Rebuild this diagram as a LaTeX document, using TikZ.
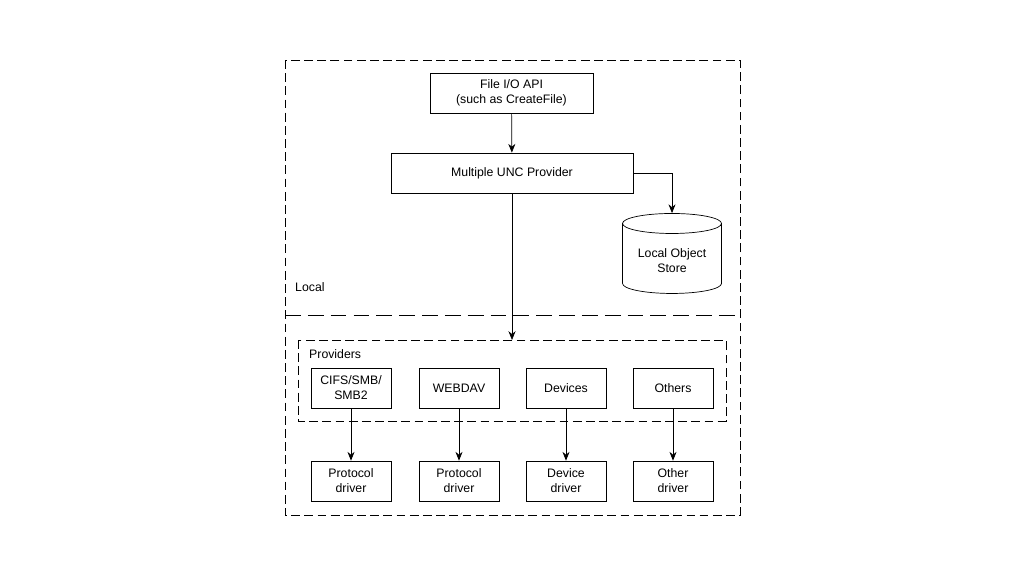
\documentclass[tikz,border=0pt]{standalone}
\usepackage{fontspec}
\setmainfont{Liberation Sans}
\usetikzlibrary{shapes.geometric,arrows.meta}
\begin{document}
\begin{tikzpicture}[x=0.02cm,y=-0.02cm,
  box/.style={draw,thin,fill=white,font=\fontsize{7}{8.5}\selectfont,align=center,inner sep=0pt},
  arr/.style={-{Stealth[length=5pt,width=4pt]},thin},
  dbox/.style={draw,thin,dash pattern=on 5pt off 2.5pt}]
\useasboundingbox (0,0) rectangle (1024,576);
\draw[dbox] (285,60) rectangle (740,515);
\draw[thin,dash pattern=on 9pt off 4pt] (285,315) -- (740,315);
\node[box,minimum width=163*0.02cm,minimum height=40*0.02cm] (io) at (511.5,93) {File I/O API\\(such as CreateFile)};
\node[box,minimum width=242*0.02cm,minimum height=40*0.02cm] (mup) at (512,173) {Multiple UNC Provider};
\node[draw,thin,cylinder,shape border rotate=90,aspect=0.25,minimum width=99*0.02cm,minimum height=80*0.02cm,font=\fontsize{7}{8.5}\selectfont,align=center] (los) at (672,261) {Local Object\\Store};
\node[font=\fontsize{7}{8.5}\selectfont,anchor=west] (loc) at (289,287) {Local};
\draw[dbox] (298,340) rectangle (726,421);
\node[font=\fontsize{7}{8.5}\selectfont,anchor=west] (prov) at (303,354) {Providers};
\coordinate (ptop) at (512,340);
\draw[arr] (io) -- (mup);
\draw[arr] (mup.east) -| (los.top);
\draw[arr] (mup) -- (ptop);
\foreach \n/\x/\t/\d in {a/351/{CIFS/SMB/\\SMB2}/{Protocol\\driver},b/459/WEBDAV/{Protocol\\driver},c/566/Devices/{Device\\driver},d/673/Others/{Other\\driver}}{
  \node[box,minimum width=80*0.02cm,minimum height=40*0.02cm] (p\n) at (\x,388) {\t};
  \node[box,minimum width=80*0.02cm,minimum height=40*0.02cm] (d\n) at (\x,481) {\d};
  \draw[arr] (p\n) -- (d\n);
}
\end{tikzpicture}
\end{document}
